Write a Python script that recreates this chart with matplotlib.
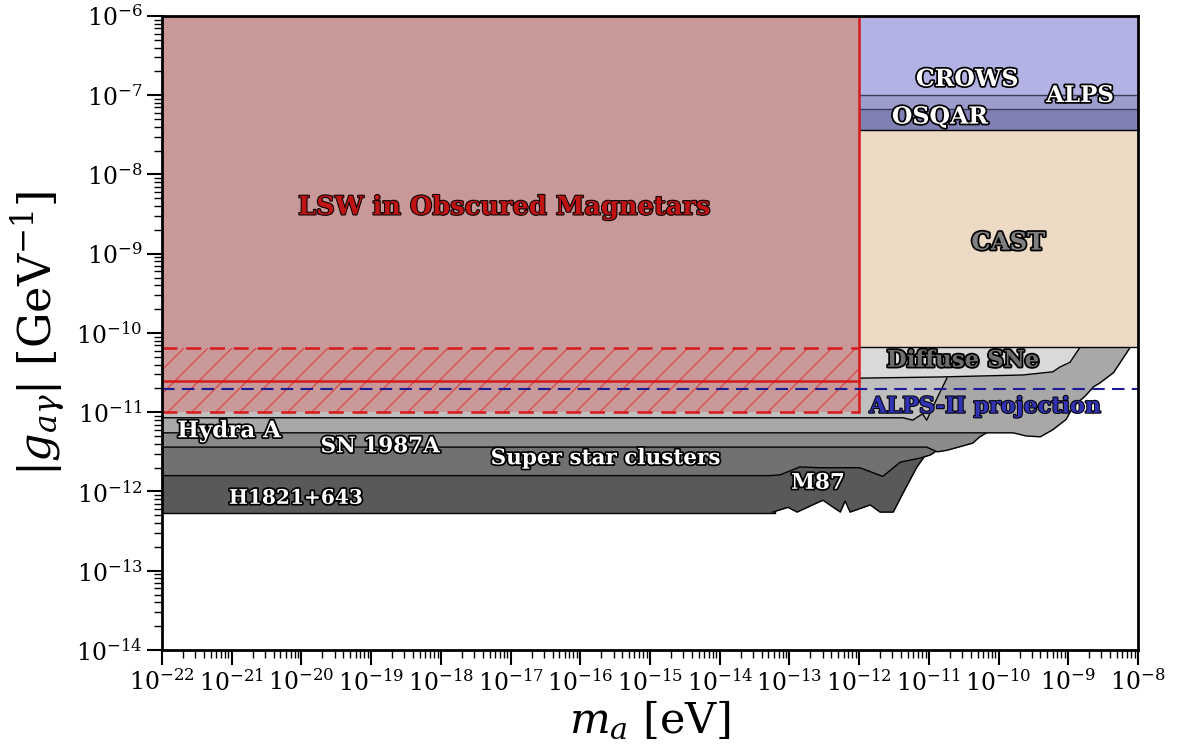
import numpy as np
import matplotlib
matplotlib.use("Agg")
import matplotlib.pyplot as plt
import matplotlib.patheffects as pe
from matplotlib.collections import LineCollection
from matplotlib.ticker import LogLocator, NullFormatter

# limit curves, stored as log10(m_a/eV), log10(g/GeV^-1)
h1821_logm = [-22.0, -13.21, -13.21]
h1821_logg = [-12.27, -12.27, -6.0]

m87_logm = [-13.24, -13.02, -12.89, -12.52, -12.27, -12.20, -12.13, -11.84, -11.70,
            -11.51, -11.37, -11.17, -11.08, -10.98, -10.95]
m87_logg = [-12.26, -12.20, -12.26, -12.11, -12.26, -12.12, -12.26, -12.17, -12.26,
            -12.26, -12.02, -11.69, -11.58, -11.45, -6.0]

ssc_logm = [-22.0, -13.28, -13.13, -12.85, -12.56, -11.99, -11.66, -11.41, -11.13,
            -10.98, -10.91, -10.84, -10.77]
ssc_logg = [-11.80, -11.80, -11.79, -11.69, -11.70, -11.70, -11.81, -11.63, -11.58,
            -11.54, -11.50, -11.10, -6.0]

sn1987a_logm = [-22.0, -11.03, -10.88, -10.74, -10.37, -10.27, -10.17, -10.05, -10.0]
sn1987a_logg = [-11.44, -11.44, -11.50, -11.48, -11.39, -11.31, -11.26, -10.85, -6.0]

hydra_logm = [-22.0, -9.79, -9.60, -9.40, -9.22, -9.03, -8.93, -8.75, -8.64, -8.545,
              -8.35, -8.11, -7.9]
hydra_logg = [-11.26, -11.26, -11.30, -11.31, -11.22, -11.09, -10.93, -10.79, -10.68,
              -10.63, -10.50, -10.18, -9.9]

chandra_logm = [-22.0, -11.37, -11.23, -11.09, -11.03, -10.88, -10.74, -10.70]
chandra_logg = [-11.07, -11.07, -11.10, -11.02, -11.10, -10.82, -10.57, -6.0]

dsne_logm = [-22.0, -11.99, -10.84, -9.65, -9.22, -9.12, -8.975, -8.83, -8.76]
dsne_logg = [-10.57, -10.57, -10.555, -10.53, -10.49, -10.43, -10.37, -10.18, -6.0]

cast_logm = [-22.0, -8.0]
cast_logg = [-10.18, -10.18]
osqar_logm = [-12.0, -8.0]
osqar_logg = [-7.44, -7.44]
alps_logm = [-12.0, -8.0]
alps_logg = [-7.17, -7.17]
crows_logm = [-12.0, -8.0]
crows_logg = [-7.00, -7.00]

# LSW in obscured magnetars
mag_mmin, mag_mmax = 1e-22, 1e-12
mag_gtop, mag_gbot = 6.5e-11, 1e-11
mag_gmid = 2.5e-11
alps2_g = 1.95e-11

plt.rcParams["font.family"] = "serif"
plt.rcParams["font.serif"] = ["DejaVu Serif"]
plt.rcParams["mathtext.fontset"] = "dejavuserif"

fig = plt.figure(figsize=(11.78, 7.53), dpi=100)
ax = fig.add_axes([0.1375, 0.1368, 0.8285, 0.842])
ax.set_xscale("log")
ax.set_yscale("log")
ax.set_xlim(1e-22, 1e-8)
ax.set_ylim(1e-14, 1e-6)

gtop = 1e-6


def limit(logm, logg, color, z, edge="k"):
    m = 10 ** np.array(logm)
    g = 10 ** np.array(logg)
    ax.fill_between(m, g, gtop, color=color, lw=0, zorder=z)
    ax.plot(m, g, "-", color=edge, lw=1.0, zorder=z + 0.01)


limit(h1821_logm, h1821_logg, "#595959", 1)
limit(m87_logm, m87_logg, "#595959", 2)
limit(ssc_logm, ssc_logg, "#717171", 3)
limit(sn1987a_logm, sn1987a_logg, "#8a8a8a", 4)
limit(hydra_logm, hydra_logg, "#a8a8a8", 5)
limit(chandra_logm, chandra_logg, "#bfbfbf", 6)
limit(dsne_logm, dsne_logg, "#d9d9d9", 7)
limit(cast_logm, cast_logg, "#ecdac5", 8)
limit(osqar_logm, osqar_logg, "#8080b4", 9)
limit(alps_logm, alps_logg, "#9c9ccd", 10, edge="#3c3c5a")
limit(crows_logm, crows_logg, "#b2b2e4", 11, edge="#3c3c5a")

# magnetar region
red = "#d7191c"
ax.fill_between([mag_mmin, mag_mmax], mag_gbot, gtop, color="#c99898", lw=0, zorder=20)
band = ax.fill_between([mag_mmin, mag_mmax], mag_gbot, mag_gtop, facecolor="none",
                       lw=0, zorder=21)
# thin diagonal hatching, drawn in axes space and clipped to the band
step = 24 / 976
aspect = 634 / 976
segs = [[(x0, 0), (x0 + aspect, 1)] for x0 in np.arange(-1.0, 1.0, step)]
hatch = LineCollection(segs, transform=ax.transAxes, colors="#e03030", lw=0.7,
                       zorder=21)
hatch.set_clip_path(band.get_paths()[0], ax.transData)
ax.add_collection(hatch)

ax.plot([mag_mmin, mag_mmax], [mag_gtop, mag_gtop], "--", color=red, lw=1.8,
        dashes=(6, 3.5), zorder=22)
ax.plot([mag_mmin, mag_mmax], [mag_gbot, mag_gbot], "--", color=red, lw=1.8,
        dashes=(6, 3.5), zorder=22)
ax.plot([mag_mmin, mag_mmax], [mag_gmid, mag_gmid], "-", color=red, lw=1.8, zorder=22)
ax.plot([mag_mmax, mag_mmax], [mag_gbot, gtop], "-", color=red, lw=1.8, zorder=22)

# ALPS-II projection
ax.plot([1e-22, 1e-8], [alps2_g, alps2_g], "--", color="#1c1c96", lw=1.5,
        dashes=(6, 3.5), zorder=23)


def label(x, y, s, color="w", size=15, weight="bold", stroke=2.5):
    ax.text(x, y, s, color=color, fontsize=size, fontweight=weight, ha="center",
            va="center", zorder=30,
            path_effects=[pe.withStroke(linewidth=stroke, foreground="k")])


label(10 ** -17.08, 10 ** -8.41, "LSW in Obscured Magnetars", color="#c01414", size=18.5,
      stroke=1.5)
label(10 ** -9.86, 10 ** -8.86, "CAST", color="#808080", size=17.5)
label(10 ** -10.45, 10 ** -6.795, "CROWS", size=17)
label(10 ** -8.83, 10 ** -7.01, "ALPS", size=16.5)
label(10 ** -10.84, 10 ** -7.27, "OSQAR", size=17)
label(10 ** -10.51, 10 ** -10.35, "Diffuse SNe", color="#6e6e6e", size=16.5)
label(10 ** -10.19, 10 ** -10.93, "ALPS-II projection", color="#3232b4", size=16,
      stroke=1.5)
label(10 ** -21.04, 10 ** -11.24, "Hydra A", size=16.5)
label(10 ** -18.87, 10 ** -11.43, "SN 1987A", size=15.5)
label(10 ** -15.64, 10 ** -11.58, "Super star clusters", size=15.5)
label(10 ** -12.59, 10 ** -11.89, "M87", size=15.5)
label(10 ** -20.08, 10 ** -12.08, "H1821+643", size=14.5)

ax.xaxis.set_major_locator(LogLocator(base=10, numticks=30))
ax.yaxis.set_major_locator(LogLocator(base=10, numticks=30))
ax.xaxis.set_minor_locator(LogLocator(base=10, subs=np.arange(2, 10), numticks=300))
ax.yaxis.set_minor_locator(LogLocator(base=10, subs=np.arange(2, 10), numticks=300))
ax.xaxis.set_minor_formatter(NullFormatter())
ax.yaxis.set_minor_formatter(NullFormatter())
ax.tick_params(which="major", direction="out", length=11, width=1.5, labelsize=17, pad=3)
ax.tick_params(which="minor", direction="out", length=6, width=1)
for sp in ax.spines.values():
    sp.set_linewidth(2)
    sp.set_zorder(40)

ax.set_xlabel(r"$m_a$ [eV]", fontsize=31, labelpad=2)
ax.set_ylabel(r"$|g_{a\gamma}|$ [GeV$^{-1}$]", fontsize=32, labelpad=6)

fig.savefig("out.png", dpi=100)
